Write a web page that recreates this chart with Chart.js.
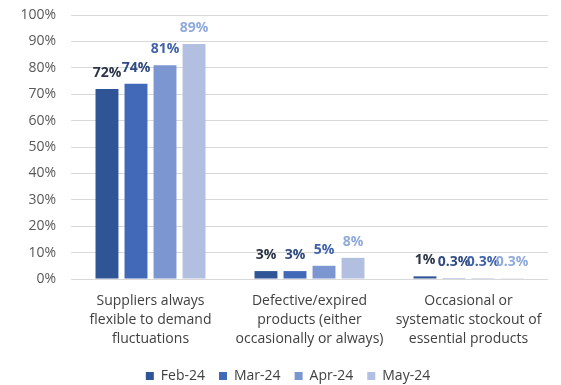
<!DOCTYPE html>
<html><head><meta charset="utf-8">
<script src="https://cdn.jsdelivr.net/npm/chart.js@4"></script>
<style>html,body{margin:0;padding:0;background:#fff}#wrap{width:561px;height:385px}</style>
</head><body><div id="wrap"><canvas id="c" width="561" height="385"></canvas></div>
<script>
const categories = [
  ["Suppliers always", "flexible to demand", "fluctuations"],
  ["Defective/expired", "products (either", "occasionally or always)"],
  ["Occasional or", "systematic stockout of", "essential products"]
];
const seriesNames = ["Feb-24", "Mar-24", "Apr-24", "May-24"];
const feb24 = [72, 3, 1];
const mar24 = [74, 3, 0.3];
const apr24 = [81, 5, 0.3];
const may24 = [89, 8, 0.3];
const yTicks = [0,10,20,30,40,50,60,70,80,90,100];

const barColors = ["#2F5597", "#4169B8", "#7B96D1", "#B3BFE0"];
const labelColors = ["#2B3547", "#2F4A80", "#3F62AA", "#8FAADC"];
const allSeries = [feb24, mar24, apr24, may24];
const FONT = "'Open Sans'";

const labelPlugin = {
  id: 'valueLabels',
  afterDatasetsDraw(chart) {
    const ctx = chart.ctx;
    ctx.save();
    ctx.font = "bold 14px " + FONT;
    ctx.textAlign = 'center';
    ctx.textBaseline = 'alphabetic';
    chart.data.datasets.forEach((ds, i) => {
      const meta = chart.getDatasetMeta(i);
      meta.data.forEach((bar, j) => {
        ctx.fillStyle = labelColors[i];
        ctx.fillText(ds.data[j] + '%', bar.x, bar.y - 12);
      });
    });
    ctx.restore();
  }
};

const legendShift = {
  id: 'legendShift',
  afterLayout(chart) {
    const lg = chart.legend;
    if (!lg) return;
    lg.left += 14; lg.right += 14;
    lg.top += 8; lg.bottom += 8;
  }
};

new Chart(document.getElementById('c'), {
  type: 'bar',
  data: {
    labels: categories,
    datasets: allSeries.map((d, i) => ({
      label: seriesNames[i],
      data: d,
      backgroundColor: barColors[i],
      barPercentage: 0.79,
      categoryPercentage: 0.73
    }))
  },
  options: {
    responsive: false,
    animation: false,
    devicePixelRatio: 1,
    layout: { padding: { top: 15, right: 13, left: 0, bottom: 0 } },
    scales: {
      y: {
        min: 0, max: 100,
        afterBuildTicks(axis) { axis.ticks = yTicks.map(v => ({ value: v })); },
        afterFit(scale) { scale.width = 71; scale.paddingTop = 0; scale.paddingBottom = 0; },
        ticks: { callback: v => v + '%', color: '#595959', font: { size: 14, family: FONT }, padding: 15 },
        grid: { color: '#D9D9D9', lineWidth: 1, drawTicks: false },
        border: { display: false }
      },
      x: {
        afterFit(scale) { scale.height = 68; },
        ticks: { color: '#404040', font: { size: 14, family: FONT, lineHeight: 1.38 }, maxRotation: 0, padding: 4 },
        grid: { display: false },
        border: { display: false }
      }
    },
    plugins: {
      legend: {
        position: 'bottom',
        labels: { boxWidth: 8, boxHeight: 8, color: '#404040', font: { size: 14, family: FONT }, padding: 14 }
      },
      tooltip: { enabled: false }
    }
  },
  plugins: [labelPlugin, legendShift]
});
</script>
</body></html>
